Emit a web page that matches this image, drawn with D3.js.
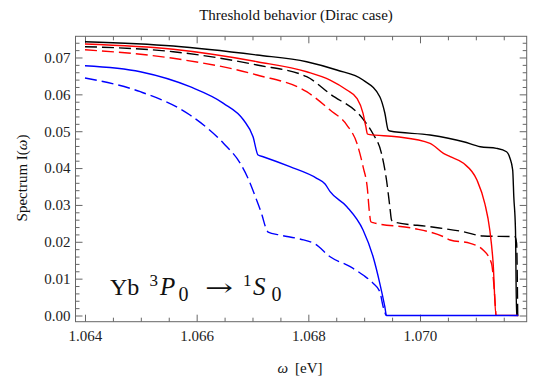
<!DOCTYPE html>
<html><head><meta charset="utf-8">
<script src="https://cdn.jsdelivr.net/npm/d3@7"></script>
<style>body{margin:0;background:#fff} svg{display:block}</style>
</head><body><svg id="c" width="533" height="376"></svg>
<script>
// ---- data (omega in eV, spectrum I(omega)) ----
const xTickValues = [1.064, 1.066, 1.068, 1.070];
const yTickValues = [0.00, 0.01, 0.02, 0.03, 0.04, 0.05, 0.06, 0.07];

const omegaBlackSolid = [1.06400,1.06558,1.06708,1.06797,1.06851,1.06898,1.06928,1.06937,1.06943,1.06946,1.07018,1.07078,1.07108,1.07137,1.07155,1.07161,1.07166,1.07168,1.07171,1.07173,1.07176];
const specBlackSolid  = [0.07428,0.07311,0.07067,0.06886,0.06660,0.06389,0.05936,0.05494,0.05033,0.05005,0.04897,0.04715,0.04579,0.04536,0.04444,0.04273,0.03947,0.03223,0.02320,0.00010,0.0];

const omegaBlackDashed = [1.06400,1.06558,1.06708,1.06797,1.06839,1.06898,1.06916,1.06931,1.06940,1.06946,1.06949,1.06952,1.07018,1.07078,1.07113,1.07170,1.07173,1.07175];
const specBlackDashed  = [0.07293,0.07157,0.06796,0.06479,0.06010,0.05330,0.04924,0.04400,0.03676,0.02952,0.02591,0.02545,0.02409,0.02273,0.02157,0.02138,0.01967,0.00010];

const omegaRedSolid = [1.06400,1.06558,1.06708,1.06797,1.06839,1.06869,1.06887,1.06898,1.06903,1.06906,1.06908,1.06958,1.07018,1.07042,1.07054,1.07078,1.07102,1.07116,1.07125,1.07131,1.07136,1.07176];
const specRedSolid  = [0.07366,0.07222,0.06886,0.06614,0.06389,0.06118,0.05893,0.05486,0.05122,0.04924,0.04915,0.04851,0.04672,0.04400,0.04308,0.04129,0.03676,0.03044,0.02320,0.01416,0.00010,0.0];

const omegaRedDashed = [1.06400,1.06558,1.06708,1.06797,1.06839,1.06869,1.06887,1.06898,1.06906,1.06909,1.06912,1.06916,1.06988,1.07042,1.07054,1.07090,1.07113,1.07128,1.07133,1.07136];
const specRedDashed  = [0.07211,0.06978,0.06525,0.06072,0.05575,0.05168,0.04672,0.04037,0.03405,0.02862,0.02545,0.02518,0.02366,0.02138,0.02048,0.01959,0.01777,0.01416,0.00692,0.00010];

const omegaBlueSolid = [1.06400,1.06499,1.06588,1.06648,1.06684,1.06701,1.06710,1.06719,1.06767,1.06815,1.06830,1.06839,1.06869,1.06898,1.06916,1.06928,1.06937,1.06940,1.07176];
const specBlueSolid  = [0.06777,0.06614,0.06207,0.05757,0.05304,0.04851,0.04354,0.04308,0.04037,0.03722,0.03568,0.03359,0.02952,0.02320,0.01595,0.00874,0.00239,0.0,0.0];

const omegaBlueDashed = [1.06400,1.06499,1.06588,1.06648,1.06678,1.06692,1.06704,1.06717,1.06724,1.06728,1.06749,1.06785,1.06812,1.06839,1.06875,1.06898,1.06916,1.06928,1.06934,1.06939];
const specBlueDashed  = [0.06443,0.06072,0.05440,0.04672,0.04129,0.03722,0.03269,0.02727,0.02374,0.02265,0.02184,0.02075,0.01940,0.01595,0.01324,0.01099,0.00874,0.00646,0.00239,0.0];

const series = [
  {om: omegaBlackSolid,  sp: specBlackSolid,  color: "#000000", dash: null},
  {om: omegaBlackDashed, sp: specBlackDashed, color: "#000000", dash: "12,5"},
  {om: omegaRedSolid,    sp: specRedSolid,    color: "#ff0000", dash: null},
  {om: omegaRedDashed,   sp: specRedDashed,   color: "#ff0000", dash: "12,5"},
  {om: omegaBlueSolid,   sp: specBlueSolid,   color: "#0000ff", dash: null},
  {om: omegaBlueDashed,  sp: specBlueDashed,  color: "#0000ff", dash: "12,5"}
];

// ---- layout ----
const L = 75.5, R = 526.7, T = 36.3, B = 321.7;
const x = d3.scaleLinear().domain([1.06383, 1.071911]).range([L, R]);
const y = d3.scaleLinear().domain([-0.00168, 0.07575]).range([B, T]);

const xMinor = d3.range(0, 16).map(i => +(1.064 + i * 0.0005).toFixed(4)).filter(v => !xTickValues.some(t => Math.abs(t - v) < 1e-9));
const yMinor = d3.range(0, 38).map(i => +(i * 0.002).toFixed(3)).filter(v => v <= 0.0757 && !yTickValues.some(t => Math.abs(t - v) < 1e-9));

const svg = d3.select("#c");
const serif = "'Liberation Serif','Times New Roman',serif";
const tickCol = "#555";

svg.append("defs").append("clipPath").attr("id", "clip")
  .append("rect").attr("x", L).attr("y", T).attr("width", R - L).attr("height", B - T);

function styleAxis(g) {
  g.select(".domain").remove();
  g.selectAll(".tick line").attr("stroke", tickCol).attr("stroke-width", 0.9);
  g.selectAll(".tick text").attr("font-family", serif).attr("font-size", 15).attr("fill", "#222");
  g.attr("font-family", null).attr("font-size", null);
}

// bottom
svg.append("g").attr("transform", `translate(0,${B})`)
  .call(d3.axisBottom(x).tickValues(xTickValues).tickSize(-7).tickPadding(9).tickFormat(d3.format(".3f"))).call(styleAxis);
svg.append("g").attr("transform", `translate(0,${B})`)
  .call(d3.axisBottom(x).tickValues(xMinor).tickSize(-4).tickFormat("")).call(styleAxis);
// top
svg.append("g").attr("transform", `translate(0,${T})`)
  .call(d3.axisTop(x).tickValues(xTickValues).tickSize(-7).tickFormat("")).call(styleAxis);
svg.append("g").attr("transform", `translate(0,${T})`)
  .call(d3.axisTop(x).tickValues(xMinor).tickSize(-4).tickFormat("")).call(styleAxis);
// left
svg.append("g").attr("transform", `translate(${L},0)`)
  .call(d3.axisLeft(y).tickValues(yTickValues).tickSize(-7).tickPadding(5).tickFormat(d3.format(".2f"))).call(styleAxis);
svg.append("g").attr("transform", `translate(${L},0)`)
  .call(d3.axisLeft(y).tickValues(yMinor).tickSize(-4).tickFormat("")).call(styleAxis);
// right
svg.append("g").attr("transform", `translate(${R},0)`)
  .call(d3.axisRight(y).tickValues(yTickValues).tickSize(-7).tickFormat("")).call(styleAxis);
svg.append("g").attr("transform", `translate(${R},0)`)
  .call(d3.axisRight(y).tickValues(yMinor).tickSize(-4).tickFormat("")).call(styleAxis);

// frame
svg.append("rect").attr("x", L).attr("y", T).attr("width", R - L).attr("height", B - T)
  .attr("fill", "none").attr("stroke", "#666").attr("stroke-width", 1);

// curves
const line = d3.line().x(d => x(d[0])).y(d => y(d[1])).curve(d3.curveMonotoneX);
const gLines = svg.append("g").attr("clip-path", "url(#clip)");
series.forEach(s => {
  const pts = s.om.map((o, i) => [o, s.sp[i]]);
  gLines.append("path").attr("d", line(pts)).attr("fill", "none")
    .attr("stroke", s.color).attr("stroke-width", 1.4)
    .attr("stroke-dasharray", s.dash).attr("stroke-linejoin", "round");
});

// title
svg.append("text").attr("x", 296).attr("y", 20).attr("text-anchor", "middle")
  .attr("font-family", serif).attr("font-size", 15).attr("fill", "#111")
  .text("Threshold behavior (Dirac case)");

// y label
const yl = svg.append("text").attr("transform", "translate(27,178) rotate(-90)").attr("text-anchor", "middle")
  .attr("font-family", serif).attr("font-size", 15).attr("fill", "#111");
yl.append("tspan").text("Spectrum I(");
yl.append("tspan").attr("font-style", "italic").text("ω");
yl.append("tspan").text(")");

// x label
const xl = svg.append("text").attr("x", 300).attr("y", 373).attr("text-anchor", "middle")
  .attr("font-family", serif).attr("font-size", 15).attr("fill", "#111");
xl.append("tspan").attr("font-style", "italic").text("ω");
xl.append("tspan").attr("dx", 7).text("[eV]");

// annotation
const an = svg.append("text").attr("font-family", serif).attr("fill", "#111");
an.append("tspan").attr("x", 110).attr("y", 295).attr("font-size", 24).text("Yb");
an.append("tspan").attr("x", 149.5).attr("y", 286).attr("font-size", 17).text("3");
an.append("tspan").attr("x", 160).attr("y", 295).attr("font-size", 25).attr("font-style", "italic").text("P");
an.append("tspan").attr("x", 178.5).attr("y", 300.5).attr("font-size", 20).text("0");
an.append("tspan").attr("x", 205).attr("y", 296).attr("font-size", 24).attr("font-family", "'DejaVu Serif',serif").attr("textLength", 28).attr("lengthAdjust", "spacingAndGlyphs").text("→");
an.append("tspan").attr("x", 243).attr("y", 286).attr("font-size", 17).text("1");
an.append("tspan").attr("x", 253).attr("y", 295).attr("font-size", 25).attr("font-style", "italic").text("S");
an.append("tspan").attr("x", 271.5).attr("y", 300.5).attr("font-size", 20).text("0");
</script></body></html>
